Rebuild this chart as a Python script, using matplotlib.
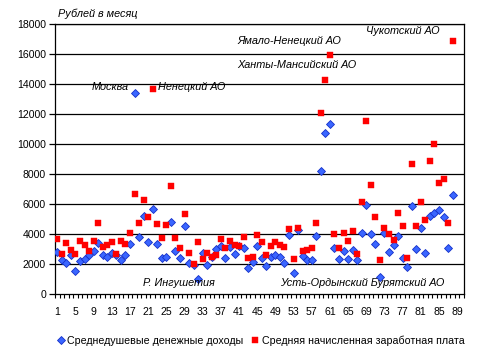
import matplotlib
matplotlib.use("Agg")
import matplotlib.pyplot as plt
from matplotlib.ticker import FixedLocator, NullFormatter

plt.rcParams['font.family'] = ['Liberation Sans', 'DejaVu Sans']

# Region numbers (88 regions shown on a 90-category axis)
regions = list(range(1, 89))

income = [2840, 2310, 2110, 2640, 1580, 2240, 2380, 2640, 2910, 3440,
          2640, 2510, 2770, 2600, 2290, 2640, 3350, 13440, 3840, 5220,
          3510, 5710, 3350, 2440, 2490, 4840, 2910, 2440, 4570, 2110,
          1950, 1040, 2770, 1970, 2500, 3040, 3240, 2440, 3170, 2690,
          3200, 3120, 1780, 2170, 3240, 2430, 1910, 2490, 2640, 2510,
          2120, 3970, 1440, 4300, 2570, 2310, 2310, 3910, 8240, 10770,
          11370, 3110, 2370, 2910, 2370, 2970, 2310, 4110, 5970, 4040,
          3370, 1170, 4060, 2840, 3290, 3910, 2440, 1840, 5910, 3040,
          4440, 2770, 5230, 5440, 5640, 5170, 3110, 6640]

wage = [3700, 2700, 3440, 2950, 2700, 3550, 3270, 2890, 3550, 4750,
        3150, 3280, 3500, 2690, 3550, 3350, 4090, 6690, 4750, 6290,
        5170, 13710, 4690, 3780, 4620, 7220, 3750, 3090, 5350, 2750,
        2020, 3490, 2350, 2750, 2490, 2620, 3690, 3090, 3550, 3300,
        3230, 3830, 2440, 2500, 3980, 3510, 2640, 3240, 3500, 3310,
        3170, 4370, 2370, 4440, 2910, 2970, 3110, 4770, 12110, 14310,
        15970, 4040, 3110, 4110, 3570, 4240, 2700, 6160, 11570, 7310,
        5170, 2290, 4440, 4040, 3620, 5440, 4570, 2440, 8710, 4570,
        6170, 4970, 8890, 10040, 7440, 7660, 4770, 16910]

n_categories = 90
x_tick_labels = list(range(1, 90, 4))
y_ticks = list(range(0, 18001, 2000))

series_names = ["Среднедушевые денежные доходы",
                "Средняя начисленная заработная плата"]

annotations = [
    ("Москва", 12.7, 13800),
    ("Ненецкий АО", 30.5, 13800),
    ("Ямало-Ненецкий АО", 52.0, 16900),
    ("Ханты-Мансийский АО", 53.7, 15270),
    ("Чукотский АО", 77.1, 17550),
    ("Р. Ингушетия", 27.7, 730),
    ("Усть-Ордынский Бурятский АО", 68.0, 730),
]

fig = plt.figure(figsize=(4.79, 3.59), dpi=100)
ax = fig.add_axes([55/479, 1-294.3/359, (464-55)/479, (294.3-24.3)/359])

for y in y_ticks[1:]:
    ax.axhline(y, color='black', lw=0.9, zorder=1)

ax.plot(regions, income, linestyle='none', marker='D', markersize=4.0,
        markerfacecolor='#3a66ff', markeredgecolor='#1530c8', markeredgewidth=0.6,
        label=series_names[0], zorder=3)
ax.plot(regions, wage, linestyle='none', marker='s', markersize=4.7,
        markerfacecolor='#ff0000', markeredgecolor='#ff0000', markeredgewidth=0.3,
        label=series_names[1], zorder=4)

ax.set_xlim(0.5, n_categories + 0.5)
ax.set_ylim(0, 18000)
ax.set_yticks(y_ticks)
ax.set_yticklabels([str(v) for v in y_ticks], fontsize=7.6)
ax.tick_params(axis='y', direction='out', length=4, width=0.9, pad=2.5)

ax.set_xticks(x_tick_labels)
ax.set_xticklabels([str(v) for v in x_tick_labels], fontsize=7.6)
ax.tick_params(axis='x', which='major', length=0, pad=9)
ax.xaxis.set_minor_locator(FixedLocator([i + 0.5 for i in range(0, n_categories + 1)]))
ax.xaxis.set_minor_formatter(NullFormatter())
ax.tick_params(axis='x', which='minor', direction='out', length=3, width=0.8)

for s in ax.spines.values():
    s.set_linewidth(0.9)
    s.set_color('black')

for text, x, y in annotations:
    ax.text(x, y, text, fontsize=7.8, style='italic', ha='center', va='center', zorder=5)

fig.text(98/479, 1-14/359, "Рублей в месяц", fontsize=7.8, style='italic',
         ha='center', va='center')

fig.legend(loc='center', bbox_to_anchor=(261/479, 1-340.5/359), ncol=2, frameon=False,
           fontsize=7.7, handlelength=0.6, handletextpad=0.3, columnspacing=0.8,
           borderaxespad=0, borderpad=0)

fig.savefig('out.png', dpi=100)
